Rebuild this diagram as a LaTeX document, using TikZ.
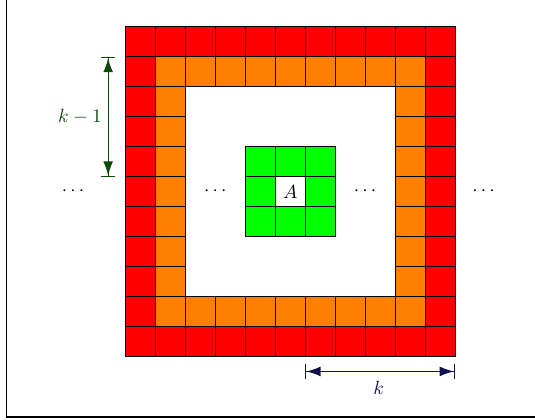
\documentclass[tikz,border=0pt]{standalone}
\definecolor{ringred}{HTML}{FF0000}
\definecolor{ringorange}{HTML}{FF8000}
\definecolor{coregreen}{HTML}{00FF00}
\definecolor{dimgreen}{HTML}{0B4A0B}
\definecolor{dimblue}{HTML}{101050}
\usetikzlibrary{arrows.meta}
\tikzset{
    redcell/.style={
        draw=black,
        fill=ringred,
        line width=0.5pt
    },
    orangecell/.style={
        draw=black,
        fill=ringorange,
        line width=0.5pt
    },
    greencell/.style={
        draw=black,
        fill=coregreen,
        line width=0.5pt
    },
    dimarrow/.style={
        {Bar[width=2.6mm]Latex[length=2.6mm,width=1.8mm]}-{Latex[length=2.6mm,width=1.8mm]Bar[width=2.6mm]},
        line width=0.6pt
    },
    dotsnode/.style={
        inner sep=0pt
    }
}

\begin{document}
\begin{tikzpicture}[x=0.55cm,y=0.55cm]
    \useasboundingbox (-4.19,-2.1) rectangle (13.67,11.9);
    % frame
    \draw[line width=0.6pt] (-3.96,11.9) -- (-3.96,-2.02) -- (13.67,-2.02);

    % outer ring
    \foreach \i in {0,...,10} {
        \draw[redcell] (\i,0) rectangle ++(1,1);
        \draw[redcell] (\i,10) rectangle ++(1,1);
        \draw[redcell] (0,\i) rectangle ++(1,1);
        \draw[redcell] (10,\i) rectangle ++(1,1);
    }
    % second ring
    \foreach \i in {1,...,9} {
        \draw[orangecell] (\i,1) rectangle ++(1,1);
        \draw[orangecell] (\i,9) rectangle ++(1,1);
        \draw[orangecell] (1,\i) rectangle ++(1,1);
        \draw[orangecell] (9,\i) rectangle ++(1,1);
    }
    % neighbourhood of A
    \foreach \i in {4,5,6} {
        \foreach \j in {4,5,6} {
            \draw[greencell] (\i,\j) rectangle ++(1,1);
        }
    }
    \draw[line width=0.5pt, fill=white] (5,5) rectangle (6,6);
    \node (cellA) at (5.5,5.5) {$A$};

    \node[dotsnode] (dotsfarleft) at (-1.75,5.5) {$\cdots$};
    \node[dotsnode] (dotsinleft) at (3,5.5) {$\cdots$};
    \node[dotsnode] (dotsinright) at (8,5.5) {$\cdots$};
    \node[dotsnode] (dotsfarright) at (11.95,5.5) {$\cdots$};

    % dimensions
    \coordinate (kmtop) at (-0.58,10);
    \coordinate (kmbottom) at (-0.58,6);
    \draw[dimarrow, draw=dimgreen, fill=dimgreen] (kmtop) -- (kmbottom);
    \node[text=dimgreen] (kmlabel) at (-1.52,8) {$k-1$};

    \coordinate (kleft) at (6,-0.5);
    \coordinate (kright) at (11,-0.5);
    \draw[dimarrow, draw=dimblue, fill=dimblue] (kleft) -- (kright);
    \node[text=dimblue] (klabel) at (8.45,-1.05) {$k$};
\end{tikzpicture}
\end{document}
